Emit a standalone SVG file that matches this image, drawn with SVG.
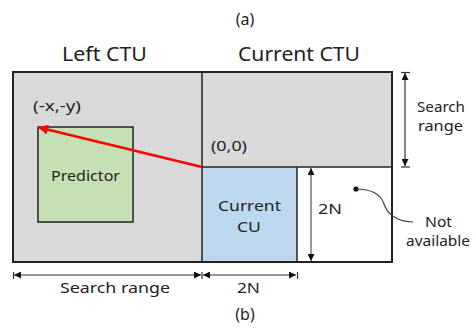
<svg xmlns="http://www.w3.org/2000/svg" width="475" height="331" viewBox="0 0 475 331">
<style>
text{font-family:"Noto Sans","Liberation Sans",sans-serif;fill:#222;}
.big{font-size:19px;}
.med{font-size:16px;}
.sm{font-size:15px;}
.edge{stroke:#222;stroke-width:2;fill:none;}
.dim{stroke:#333;stroke-width:1.2;fill:none;}
.tick{stroke:#333;stroke-width:1.2;}
</style>
<defs>
<marker id="ah" viewBox="0 0 10 10" refX="10" refY="5" markerWidth="7" markerHeight="7" markerUnits="userSpaceOnUse" orient="auto-start-reverse">
<path d="M0,0 L10,5 L0,10 Z" fill="#111"/>
</marker>
<marker id="ahr" viewBox="0 0 10 10" refX="9" refY="5" markerWidth="11" markerHeight="10" markerUnits="userSpaceOnUse" orient="auto">
<path d="M0,0 L10,5 L0,10 Z" fill="#ff0000"/>
</marker>
</defs>
<text x="245" y="25" class="med" text-anchor="middle">(a)</text>
<text x="245" y="320" class="med" text-anchor="middle">(b)</text>
<g id="left-ctu">
<rect x="13" y="72" width="189" height="190" fill="#d9d9d9"/>
<text x="62" y="61" class="big" textLength="85" lengthAdjust="spacingAndGlyphs">Left CTU</text>
<text x="33" y="111" class="sm" textLength="48" lengthAdjust="spacingAndGlyphs">(-x,-y)</text>
</g>
<g id="current-ctu">
<rect x="202" y="72" width="190" height="95" fill="#d9d9d9"/>
<text x="238" y="61" class="big" textLength="122" lengthAdjust="spacingAndGlyphs">Current CTU</text>
<text x="211" y="151" class="sm" textLength="36" lengthAdjust="spacingAndGlyphs">(0,0)</text>
</g>
<g id="current-cu">
<rect x="202" y="167" width="95" height="95" fill="#bdd7ee"/>
<text x="218" y="211" class="sm" textLength="63" lengthAdjust="spacingAndGlyphs">Current</text>
<text x="237" y="232" class="sm" textLength="24" lengthAdjust="spacingAndGlyphs">CU</text>
</g>
<g id="not-available">
<rect x="297" y="167" width="95" height="95" fill="#ffffff"/>
<circle cx="356" cy="189" r="2.6" fill="#111"/>
<text x="425" y="227" class="sm" textLength="27" lengthAdjust="spacingAndGlyphs">Not</text>
<text x="406" y="246" class="sm" textLength="64" lengthAdjust="spacingAndGlyphs">available</text>
</g>
<g id="frame">
<rect x="13" y="72" width="379" height="190" class="edge"/>
<line x1="202" y1="72" x2="202" y2="262" stroke="#222" stroke-width="1.5"/>
<line x1="202" y1="167" x2="392" y2="167" stroke="#222" stroke-width="1.5"/>
<line x1="297" y1="167" x2="297" y2="262" stroke="#222" stroke-width="1.5"/>
</g>
<g id="predictor">
<rect x="38" y="127" width="95" height="95" fill="#c5e0b4" stroke="#222" stroke-width="1.5"/>
<text x="51" y="181" class="sm" textLength="69" lengthAdjust="spacingAndGlyphs">Predictor</text>
</g>
<g id="labels">
<text x="417" y="112" class="sm" textLength="48" lengthAdjust="spacingAndGlyphs">Search</text>
<text x="418" y="131" class="sm" textLength="45" lengthAdjust="spacingAndGlyphs">range</text>
<text x="318" y="214" class="sm" textLength="24" lengthAdjust="spacingAndGlyphs">2N</text>
<text x="60" y="293" class="sm" textLength="110" lengthAdjust="spacingAndGlyphs">Search range</text>
<text x="237" y="293" class="sm" textLength="23" lengthAdjust="spacingAndGlyphs">2N</text>
</g>
<g id="connectors">
<line x1="202" y1="167" x2="39" y2="127.5" stroke="#ff0000" stroke-width="2.5" marker-end="url(#ahr)"/>
<line x1="405" y1="73" x2="405" y2="166" class="dim" marker-start="url(#ah)" marker-end="url(#ah)"/>
<line x1="401" y1="72.5" x2="410" y2="72.5" class="tick"/>
<line x1="401" y1="167" x2="410" y2="167" class="tick"/>
<line x1="311" y1="168" x2="311" y2="261" stroke="#555" stroke-width="1.2" marker-start="url(#ah)" marker-end="url(#ah)"/>
<path d="M356,189 C372,189 381,195 384,204 C387,214 398,222 413,222" fill="none" stroke="#444" stroke-width="1.2"/>
<line x1="14" y1="275" x2="201" y2="275" class="dim" marker-start="url(#ah)" marker-end="url(#ah)"/>
<line x1="203" y1="275" x2="296" y2="275" class="dim" marker-start="url(#ah)" marker-end="url(#ah)"/>
<line x1="13.5" y1="272" x2="13.5" y2="279" class="tick"/>
<line x1="202" y1="272" x2="202" y2="279" class="tick"/>
<line x1="297.5" y1="272" x2="297.5" y2="279" class="tick"/>
</g>
</svg>
